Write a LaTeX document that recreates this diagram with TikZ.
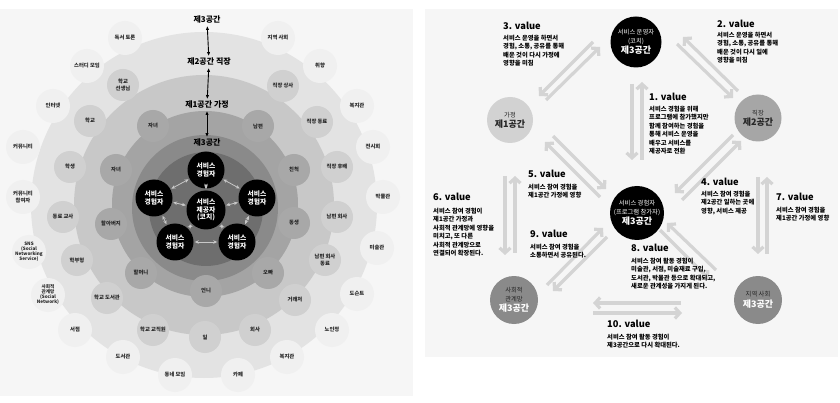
\documentclass[tikz,border=0pt]{standalone}
\usepackage{fontspec}
\setmainfont{Noto Sans CJK KR}
\usetikzlibrary{arrows.meta}
\definecolor{bgp}{HTML}{F6F6F6}
\definecolor{ringA}{HTML}{E3E3E3}
\definecolor{ringB}{HTML}{C8C8C8}
\definecolor{ringC}{HTML}{A4A4A4}
\definecolor{ringD}{HTML}{8A8A8A}
\definecolor{ringE}{HTML}{6E6E6E}
\definecolor{bubA}{HTML}{F0F0F0}
\definecolor{bubB}{HTML}{D0D0D0}
\definecolor{bubC}{HTML}{A8A8A8}
\definecolor{arrG}{HTML}{D4D4D4}
\definecolor{linkG}{HTML}{C8C8C8}
\definecolor{txtG}{HTML}{262626}
\definecolor{homeG}{HTML}{D2D2D2}
\definecolor{workG}{HTML}{A6A6A6}
\definecolor{socG}{HTML}{8A8A8A}
\begin{document}
\begin{tikzpicture}[x=1pt,y=-1pt,
 bub/.style={circle, inner sep=0pt, align=center, text=txtG, font=\bfseries\fontsize{5.3}{6.2}\selectfont},
 bo/.style={bub, fill=bubA, minimum size=34pt},
 bm/.style={bub, fill=bubB, minimum size=32pt},
 bi/.style={bub, fill=bubC, minimum size=32pt},
 blk/.style={circle, fill=black, inner sep=0pt, minimum size=37pt, text=white, align=center, font=\bfseries\fontsize{6.8}{7.8}\selectfont},
 lab/.style={font=\bfseries\fontsize{8}{9}\selectfont, inner sep=1pt},
 vlink/.style={{Latex[length=4pt,width=3.4pt]}-{Latex[length=4pt,width=3.4pt]}, line width=0.9pt, shorten <=1pt, shorten >=1pt},
 clink/.style={{Stealth[length=4pt,width=3.5pt]}-{Stealth[length=4pt,width=3.5pt]}, draw=linkG, line width=0.8pt, shorten <=1pt, shorten >=1pt},
 varr/.style={draw=arrG, line width=3.2pt, -{Straight Barb[length=5pt,width=11pt]}},
 head/.style={anchor=west, font=\bfseries\fontsize{9.3}{10}\selectfont, inner sep=0pt},
 body/.style={anchor=north west, align=left, font=\bfseries\fontsize{6.3}{8.4}\selectfont, inner sep=0pt},
 rc/.style={circle, inner sep=0pt, align=center, font=\fontsize{6.3}{9}\selectfont},
]
\useasboundingbox (0,0) rectangle (840,403);
\fill[white] (0,0) rectangle (840,403);
\fill[bgp] (0,9) rectangle (413,396);
\fill[bgp] (425,9) rectangle (838,357);

% ---------- left panel: rings ----------
\fill[ringA] (204,205) circle[radius=173pt];
\fill[ringB] (204,205) circle[radius=130pt];
\fill[ringC] (205,204) circle[radius=93pt];
\fill[ringD] (205,208) circle[radius=73pt];
\fill[ringE] (206,209) circle[radius=57pt];

% outer bubbles
\node[bo] (o1) at (125,38) {독서 토론};
\node[bo] (o2) at (87,66) {스터디 모임};
\node[bo] (o3) at (53,106) {인터넷};
\node[bo] (o4) at (23,147) {커뮤니티};
\node[bo] (o5) at (23,197) {커뮤니티\\참여자};
\node[bo, font=\bfseries\fontsize{4.6}{5}\selectfont] (o6) at (29,252) {SNS\\(Social\\Networking\\Service)};
\node[bo, font=\bfseries\fontsize{4.6}{5}\selectfont] (o7) at (48,295) {사회적\\관계망\\(Social\\Network)};
\node[bo] (o8) at (75,330) {서점};
\node[bo] (o9) at (123,357) {도서관};
\node[bo] (o10) at (175,375) {동네 모임};
\node[bo] (o11) at (238,375) {카페};
\node[bo] (o12) at (287,357) {복지관};
\node[bo] (o13) at (332,330) {노인정};
\node[bo] (o14) at (357,294) {도슨트};
\node[bo] (o15) at (377,248) {미술관};
\node[bo] (o16) at (383,197) {박물관};
\node[bo] (o17) at (373,147) {전시회};
\node[bo] (o18) at (357,106) {복지관};
\node[bo] (o19) at (320,66) {취향};
\node[bo] (o20) at (278,38) {지역 사회};

% middle bubbles
\node[bm] (m1) at (123,85) {학교\\선생님};
\node[bm] (m2) at (90,121) {학교};
\node[bm] (m3) at (70,167) {학생};
\node[bm] (m4) at (63,217) {동료 교사};
\node[bm] (m5) at (77,260) {학부형};
\node[bm] (m6) at (107,298) {학교 도서관};
\node[bm] (m7) at (153,330) {학교 교직원};
\node[bm] (m8) at (205,337) {일};
\node[bm] (m9) at (255,330) {회사};
\node[bm] (m10) at (295,300) {거래처};
\node[bm] (m11) at (325,260) {남편 회사\\동료};
\node[bm] (m12) at (337,217) {남편 회사};
\node[bm] (m13) at (337,167) {직장 후배};
\node[bm] (m14) at (317,122) {직장 동료};
\node[bm] (m15) at (283,86) {직장 상사};

% inner bubbles
\node[bi] (i1) at (153,126) {자녀};
\node[bi] (i2) at (116,170) {자녀};
\node[bi] (i3) at (111,224) {할아버지};
\node[bi] (i4) at (141,273) {할머니};
\node[bi] (i5) at (206,291) {언니};
\node[bi] (i6) at (268,273) {오빠};
\node[bi] (i7) at (294,223) {동생};
\node[bi] (i8) at (294,170) {친척};
\node[bi] (i9) at (258,126) {남편};

% space labels
\node[lab] (T3) at (207,20) {제3공간};
\node[lab] (T2) at (209,62) {제2공간 직장};
\node[lab] (T1) at (207,105) {제1공간 가정};
\node[lab] (T0) at (207,143) {제3공간};
\draw[vlink] (T3) -- (T2);
\draw[vlink] (T2) -- (T1);
\draw[vlink] (T1) -- (T0);

% black cluster
\node[blk] (bT) at (206,170) {서비스\\경험자};
\node[blk] (bL) at (154,198) {서비스\\경험자};
\node[blk] (bR) at (257,198) {서비스\\경험자};
\node[blk] (bBL) at (175,242) {서비스\\경험자};
\node[blk] (bBR) at (237,242) {서비스\\경험자};
\node[blk, minimum size=39pt] (bC) at (206,210) {서비스\\제공자\\(코치)};
\draw[clink] (bT) -- (bC);
\draw[clink] (bL) -- (bC);
\draw[clink] (bR) -- (bC);
\draw[clink] (bBL) -- (bC);
\draw[clink] (bBR) -- (bC);
\draw[clink] (bT) -- (bL);
\draw[clink] (bT) -- (bR);
\draw[clink] (bL) -- (bBL);
\draw[clink] (bR) -- (bBR);
\draw[clink] (bBL) -- (bBR);

% ---------- right panel ----------
\node[rc, fill=black, minimum size=51pt, text=white] (OP) at (636,42)
 {서비스 운영자\\(코치)\\[1pt]\bfseries\fontsize{9}{10}\selectfont 제3공간};
\node[rc, fill=black, minimum size=54pt, text=white] (PA) at (637,213)
 {서비스 경험자\\(프로그램 참가자)\\[1pt]\bfseries\fontsize{9}{10}\selectfont 제3공간};
\node[rc, fill=homeG, minimum size=46pt, text=txtG] (HM) at (510,120)
 {가정\\[1pt]\bfseries\fontsize{9}{10}\selectfont 제1공간};
\node[rc, fill=workG, minimum size=47pt, text=txtG] (WK) at (758,118)
 {직장\\[1pt]\bfseries\fontsize{9}{10}\selectfont 제2공간};
\node[rc, fill=socG, minimum size=48pt, text=txtG] (SN) at (514,300)
 {사회적\\관계망\\[1pt]\bfseries\fontsize{9}{10}\selectfont\color{white}제3공간};
\node[rc, fill=socG, minimum size=48pt, text=txtG] (LC) at (758,300)
 {지역 사회\\[2pt]\bfseries\fontsize{9}{10}\selectfont\color{white}제3공간};

% two-way arrows
\draw[varr] (632,84) -- (632,160);
\draw[varr] (642,160) -- (642,82);
\draw[varr] (738,91) -- (683,37);
\draw[varr] (677,44) -- (733,98);
\draw[varr] (593,42) -- (539,96);
\draw[varr] (546,100) -- (600,47);
\draw[varr] (733,135) -- (675,193);
\draw[varr] (682,200) -- (741,141);
\draw[varr] (600,197) -- (545,142);
\draw[varr] (553,136) -- (606,189);
\draw[varr] (547,285) -- (603,228);
\draw[varr] (607,237) -- (553,291);
\draw[varr] (716,270) -- (667,223);
\draw[varr] (660,230) -- (709,279);
\draw[varr] (505,176) -- (505,255);
\draw[varr] (515,253) -- (515,176);
\draw[varr] (758,177) -- (758,254);
\draw[varr] (767,254) -- (767,177);
\draw[varr] (681,303) -- (593,303);
\draw[varr] (593,313) -- (682,313);

% value texts
\node[head] (h1) at (649,97) {1. value};
\node[body] (t1) at (649,106) {서비스 경험을 위해\\프로그램에 참가했지만\\함께 참여하는 경험을\\통해 서비스 운영을\\배우고 서비스를\\제공자로 전환};
\node[head] (h2) at (717,24) {2. value};
\node[body] (t2) at (717,32) {서비스 운영을 하면서\\경험, 소통, 공유를 통해\\배운 것이 다시 일에\\영향을 미침};
\node[head] (h3) at (503,26) {3. value};
\node[body] (t3) at (503,35) {서비스 운영을 하면서\\경험, 소통, 공유를 통해\\배운 것이 다시 가정에\\영향을 미침};
\node[head] (h4) at (701,182) {4. value};
\node[body] (t4) at (701,191) {서비스 참여 경험을\\제2공간 일하는 곳에\\영향, 서비스 제공};
\node[head] (h5) at (528,174) {5. value};
\node[body] (t5) at (528,184) {서비스 참여 경험을\\제1공간 가정에 영향};
\node[head] (h6) at (433,197) {6. value};
\node[body] (t6) at (433,208) {서비스 참여 경험이\\제1공간 가정과\\사회적 관계망에 영향을\\미치고, 또 다른\\사회적 관계망으로\\연결되어 확장된다.};
\node[head] (h7) at (776,197) {7. value};
\node[body] (t7) at (776,207) {서비스 참여 경험을\\제1공간 가정에 영향};
\node[head] (h8) at (631,248) {8. value};
\node[body] (t8) at (631,258) {서비스 참여 활동 경험이\\미술관, 서점, 미술재료 구입,\\도서관, 박물관 등으로 확대되고,\\새로운 관계성을 가지게 된다.};
\node[head] (h9) at (530,234) {9. value};
\node[body] (t9) at (530,244) {서비스 참여 경험을\\소통하면서 공유된다.};
\node[head] (h10) at (607,324) {10. value};
\node[body] (t10) at (607,334) {서비스 참여 활동 경험이\\제3공간으로 다시 확대된다.};
\end{tikzpicture}
\end{document}
